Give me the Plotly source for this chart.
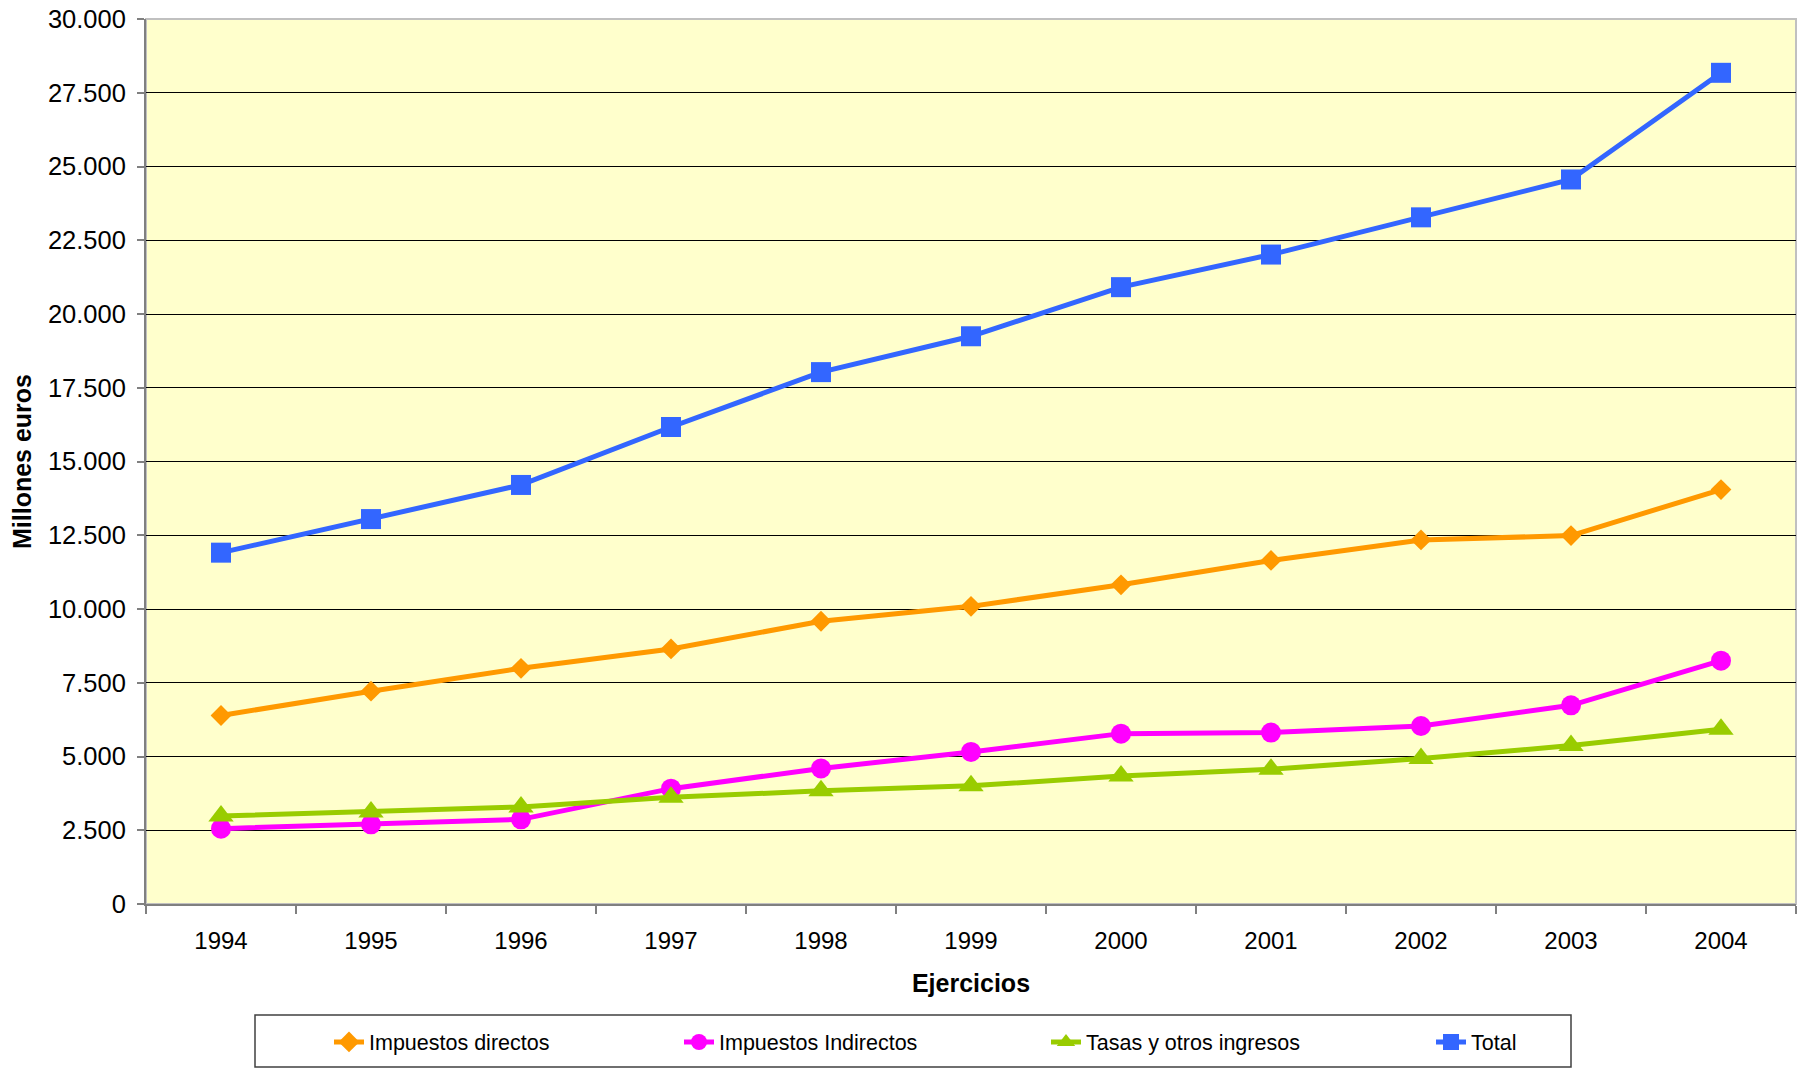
import plotly.graph_objects as go

years = ["1994", "1995", "1996", "1997", "1998", "1999", "2000", "2001", "2002", "2003", "2004"]
directos = [6390, 7215, 7990, 8645, 9585, 10090, 10820, 11645, 12340, 12490, 14050]
indirectos = [2555, 2700, 2870, 3910, 4595, 5155, 5775, 5810, 6035, 6735, 8250]
tasas = [2985, 3120, 3290, 3615, 3835, 4005, 4340, 4570, 4930, 5370, 5920]
total = [11910, 13048, 14205, 16170, 18030, 19245, 20910, 22015, 23277, 24560, 28176]

names = ["Impuestos directos", "Impuestos Indirectos", "Tasas y otros ingresos", "Total"]
colors = ["#FF9900", "#FF00FF", "#99CC00", "#3366FF"]
symbols = ["diamond", "circle", "triangle-up", "square"]
msizes = [16, 20, 22, 20]
series = [directos, indirectos, tasas, total]

FONT = "Arial, 'Liberation Sans', sans-serif"

W, H = 1803, 1069
ML, MR, MT, MB = 146, 7, 19, 165
PW = W - ML - MR
PH = H - MT - MB

def px2x(px):  # screen px -> paper x
    return (px - ML) / PW

def px2y(py):  # screen px -> paper y
    return (H - MB - py) / PH

fig = go.Figure()
legend_px = [329, 679, 1046, 1431]
for i, (nm, col, sym, ms, vals) in enumerate(zip(names, colors, symbols, msizes, series)):
    lg = "legend" if i == 0 else f"legend{i+1}"
    fig.add_trace(go.Scatter(
        x=years, y=vals, name=nm, mode="lines+markers",
        line=dict(color=col, width=5),
        marker=dict(symbol=sym, size=ms, color=col, line=dict(width=0)),
        legend=lg,
    ))

legend_common = dict(
    orientation="h", bgcolor="rgba(0,0,0,0)", borderwidth=0,
    font=dict(family=FONT, size=21.5, color="#000000"),
    xanchor="left", yanchor="middle", y=px2y(1042),
)
layout_legends = {}
for i, lx in enumerate(legend_px):
    key = "legend" if i == 0 else f"legend{i+1}"
    layout_legends[key] = dict(legend_common, x=px2x(lx))

fig.update_layout(
    width=W, height=H,
    margin=dict(l=ML, r=MR, t=MT, b=MB, autoexpand=False),
    paper_bgcolor="#FFFFFF",
    plot_bgcolor="#FFFFCC",
    separators=",.",
    font=dict(family=FONT, size=24, color="#000000"),
    showlegend=True,
    **layout_legends,
)

fig.update_xaxes(
    type="category", range=[-0.5, 10.5],
    showgrid=False, zeroline=False,
    showline=True, linecolor="#808080", linewidth=2,
    ticks="outside", ticklen=8, tickcolor="#808080", tickwidth=1.5,
    tickson="boundaries",
    tickfont=dict(family=FONT, size=24, color="#000000"),
    ticklabelstandoff=14,
    title=dict(text="<b>Ejercicios</b>", font=dict(family=FONT, size=25, color="#000000"), standoff=22),
)
fig.update_yaxes(
    range=[0, 30000], dtick=2500, tick0=0, tickformat=",d",
    showgrid=True, gridcolor="#000000", gridwidth=1,
    zeroline=False,
    showline=True, linecolor="#808080", linewidth=2,
    ticks="outside", ticklen=7, tickcolor="#808080", tickwidth=1.5,
    tickfont=dict(family=FONT, size=25.5, color="#000000"),
    ticklabelstandoff=6,
    title=dict(text="<b>Millones euros</b>", font=dict(family=FONT, size=25, color="#000000"), standoff=9),
)

# plot area border (top/right light gray)
fig.add_shape(type="rect", xref="x domain", yref="y domain", x0=0, x1=1, y0=0, y1=1,
              line=dict(color="#C0C0C0", width=2), layer="below")
# legend frame
fig.add_shape(type="rect", xref="paper", yref="paper",
              x0=px2x(255), x1=px2x(1571), y0=px2y(1067), y1=px2y(1015),
              line=dict(color="#404040", width=1.5), fillcolor="rgba(0,0,0,0)")

fig.write_html("out.html", config={"displayModeBar": False},
               post_script="document.body.style.margin='0';")
